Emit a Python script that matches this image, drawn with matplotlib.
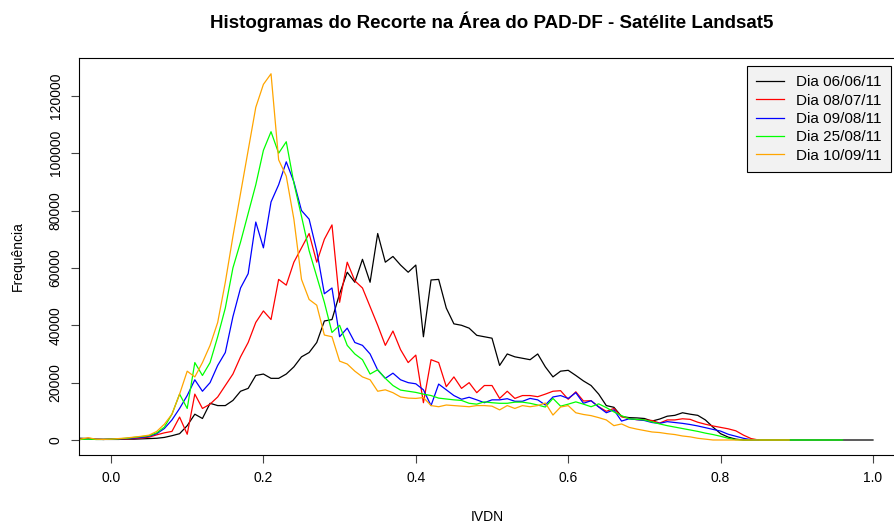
import numpy as np
import matplotlib
matplotlib.use("Agg")
import matplotlib.pyplot as plt

plt.rcParams["font.family"] = ["Liberation Sans", "DejaVu Sans"]

# IVDN bins (0.01 wide) from -0.04 to 1.00; frequencies in thousands of pixels
ivdn = np.round(np.arange(-0.04, 1.0001, 0.01), 2)

freq_0606 = [0.6, 0.5, 0.2, 0.2,
             0.2, 0.2, 0.3, 0.3, 0.4, 0.5, 0.6, 0.9, 1.5, 2.2,
             5, 9, 7.5, 12.8, 12, 12, 13.8, 17, 18, 22.5,
             23, 21.5, 21.5, 23, 25.5, 29, 30.5, 34, 41.5, 42,
             51, 58.5, 55, 63, 55, 72, 62, 64, 61, 58.5,
             61, 36, 55.8, 56, 46, 40.5, 40, 39, 36.5, 36,
             35.5, 26, 30, 29, 28.5, 28, 30, 25.5, 22, 24,
             24.3, 22.5, 20.6, 19, 16, 12, 11.4, 8.2, 7.8, 7.7,
             7.5, 6.6, 7.3, 8.3, 8.6, 9.5, 9, 8.6, 7, 4.5,
             2.2, 1, 0.3, 0, 0, 0, 0, 0, 0, 0,
             0, 0, 0, 0, 0, 0, 0, 0, 0, 0, 0]

freq_0807 = [0.2, 0.6, 0.3, 0.2,
             0.3, 0.3, 0.4, 0.5, 0.7, 1.0, 1.8, 2.5, 3, 8,
             2, 16, 11, 12.5, 15, 19, 23, 29, 34, 41,
             45, 42, 56, 54, 62, 67, 72, 62, 70, 75,
             48, 62, 55.5, 53, 46.5, 40, 33, 38, 31.5, 27,
             29.6, 13, 28, 27, 18.6, 22, 18, 20, 16.5, 19,
             19, 14.5, 17, 14.5, 15.5, 15.5, 15.1, 16, 17, 17.2,
             14.2, 16.8, 13.6, 13.7, 11.6, 10, 11, 8.1, 7.5, 7.1,
             7, 6.8, 5.9, 7, 7, 7.4, 7.2, 6.2, 5.5, 4.9,
             4.4, 3.9, 3.2, 1.7, 0.5, 0]

freq_0908 = [0.2, 0.4, 0.3, 0.2,
             0.3, 0.4, 0.5, 0.7, 0.9, 1.3, 2.2, 4, 7, 11,
             15.5, 21, 17, 20, 26, 30.5, 43, 53, 58, 76,
             67, 83, 89, 97, 90, 80, 77, 66, 51, 53,
             36, 39, 34, 33, 30, 24.4, 21.5, 23.3, 21, 20,
             19.6, 17.5, 12, 19.5, 17.5, 15.5, 14.2, 14.9, 14, 13,
             14, 14, 14.4, 13.5, 13.5, 14.5, 14, 12.2, 15, 15.5,
             14.5, 16.5, 12.8, 13.7, 11.5, 9.5, 10.5, 6.6, 7.4, 7.1,
             6.8, 6.1, 5.8, 6.4, 6.1, 5.8, 5.4, 4.9, 4.3, 3.7,
             3.1, 2, 1.3, 0.6, 0.1, 0]

freq_2508 = [0.2, 0.3, 0.2, 0.2,
             0.3, 0.4, 0.6, 0.9, 1.2, 1.5, 2.5, 4.5, 9, 16,
             11, 27, 22.5, 27, 36, 46, 60, 69, 79, 89,
             101, 107.5, 100, 104, 89.6, 78, 66, 57, 48, 37.5,
             40, 33, 30, 28, 23, 24.5, 21.5, 19, 17.4, 17,
             16.6, 16, 15.5, 14.6, 14.3, 14, 13.8, 12.8, 12.5, 13.3,
             13, 12.8, 12.8, 13.2, 13.2, 12.8, 12.2, 11.5, 14.5, 11.8,
             12.5, 13.3, 12.5, 11.6, 12.6, 11.3, 9.8, 8.5, 7.4, 7.2,
             7, 6.3, 5.6, 5, 4.5, 4, 3.5, 3, 2.4, 1.9,
             1.3, 0.6, 0.1, 0, 0, 0, 0, 0, 0, 0,
             0, 0, 0, 0, 0, 0, 0]

freq_1009 = [0.3, 0.8, 0.3, 0.2,
             0.3, 0.5, 0.7, 1.0, 1.3, 1.7, 3.0, 5.5, 9, 16,
             24, 22, 27, 33, 41, 55, 71, 86, 101, 116,
             124, 127.7, 97.7, 92, 77, 56, 49, 47, 36.6, 36,
             27.5, 26.5, 24, 22, 21, 17, 17.5, 16.5, 15, 14.6,
             14.5, 14.8, 12, 11.6, 12.2, 12, 11.8, 11.6, 12, 12,
             11.8, 10.5, 12, 11, 12, 11.6, 12, 12.9, 8.7, 11.5,
             12, 9.5, 8.9, 8.5, 7.8, 7, 5, 5.6, 4.4, 3.8,
             3.3, 2.8, 2.6, 2.2, 1.9, 1.4, 1.1, 0.6, 0.3, 0,
             0, 0, 0, 0, 0, 0, 0, 0, 0, 0]

series = [
    ("Dia 06/06/11", freq_0606, "black"),
    ("Dia 08/07/11", freq_0807, "red"),
    ("Dia 09/08/11", freq_0908, "blue"),
    ("Dia 25/08/11", freq_2508, "#00ff00"),
    ("Dia 10/09/11", freq_1009, "orange"),
]

W, H = 895, 524
fig = plt.figure(figsize=(W / 100, H / 100), dpi=100)
ax = fig.add_axes([79 / W, 1 - 455 / H, 826 / W, 397 / H])

for label, vals, col in series:
    y = np.array(vals) * 1000
    ax.plot(ivdn[:len(y)], y, color=col, lw=0.9, label=label)

ax.set_xlim(-0.042, 1.042)
ax.set_ylim(-5230, 133200)
ax.set_xticks([0.0, 0.2, 0.4, 0.6, 0.8, 1.0])
ax.set_xticklabels(["0.0", "0.2", "0.4", "0.6", "0.8", "1.0"])
ax.set_yticks(range(0, 120001, 20000))
ax.set_yticklabels([str(v) for v in range(0, 120001, 20000)],
                   rotation=90, va="center")
ax.tick_params(length=5.8, width=0.8, labelsize=10, color="#444444", pad=6)
for s in ax.spines.values():
    s.set_linewidth(0.8)

fig.text(492 / W, 1 - 22 / H,
         "Histogramas do Recorte na Área do PAD-DF - Satélite Landsat5",
         ha="center", va="center", fontsize=13.5, fontweight="bold")
fig.text(487 / W, 1 - 517 / H, "IVDN", ha="center", va="center", fontsize=10)
fig.text(18 / W, 1 - 256 / H, "Frequência", ha="center", va="center",
         rotation=90, fontsize=10)

leg = ax.legend(loc="upper left", bbox_to_anchor=(747 / W, 1 - 66 / H),
                bbox_transform=fig.transFigure, borderaxespad=0,
                fontsize=11, handlelength=1.8, handletextpad=0.8,
                labelspacing=0.28, borderpad=0.62, fancybox=False,
                framealpha=1)
leg.get_frame().set_facecolor("#f2f2f2")
leg.get_frame().set_edgecolor("black")
leg.get_frame().set_linewidth(0.8)

fig.savefig("out.png", dpi=100)
